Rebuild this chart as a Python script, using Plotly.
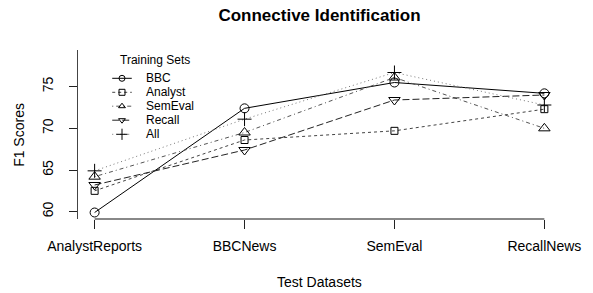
import plotly.graph_objects as go

# ---- data ----
categories = ["AnalystReports", "BBCNews", "SemEval", "RecallNews"]
series_names = ["BBC", "Analyst", "SemEval", "Recall", "All"]
bbc = [59.9, 72.4, 75.5, 74.2]
analyst = [62.5, 68.6, 69.7, 72.3]
semeval = [64.2, 69.5, 76.1, 70.0]
recall = [63.2, 67.4, 73.4, 74.0]
all_sets = [64.9, 71.1, 76.7, 72.8]
y_ticks = [60, 65, 70, 75]

values = [bbc, analyst, semeval, recall, all_sets]
symbols = ["circle-open", "square-open", "triangle-up-open", "triangle-down-open", "cross-thin-open"]
msizes = [9, 7, 10, 10, 10]
dashes = ["solid", "3px,3px", "1px,3px,4px,3px", "7px,3px", "1px,3px"]
lcolors = ["#000000", "#444444", "#555555", "#222222", "#777777"]

W, H = 593, 293
L, R, T, B = 78, 21, 50, 74
pw, ph = W - L - R, H - T - B

FONT = "Liberation Sans, Arial, sans-serif"
fig = go.Figure()
xs = list(range(len(categories)))
for name, v, sym, ms, d, c in zip(series_names, values, symbols, msizes, dashes, lcolors):
    fig.add_trace(go.Scatter(
        x=xs, y=v, mode="lines+markers", name=name,
        line=dict(color=c, width=1, dash=d),
        marker=dict(symbol=sym, size=ms, color="#000000",
                    line=dict(color="#000000", width=1)),
        showlegend=False))

# manual legend on a pixel-coordinate overlay axis
leg_x0, leg_x1, leg_mid, leg_text = 113, 133, 123, 146
leg_rows = [78.3, 92.3, 106.2, 120.2, 134.3]
for i, (name, sym, d, c) in enumerate(zip(series_names, symbols, dashes, lcolors)):
    yy = leg_rows[i]
    fig.add_trace(go.Scatter(x=[leg_x0, leg_x1], y=[yy, yy], mode="lines",
                             line=dict(color=c, width=1, dash=d),
                             xaxis="x2", yaxis="y2", showlegend=False, hoverinfo="skip"))
    fig.add_trace(go.Scatter(x=[leg_mid], y=[yy], mode="markers",
                             marker=dict(symbol=sym, size=6 if i < 4 else 8, color="#000000",
                                         line=dict(color="#000000", width=1)),
                             xaxis="x2", yaxis="y2", showlegend=False, hoverinfo="skip"))
    fig.add_annotation(x=leg_text, y=yy, xref="x2", yref="y2", text=name,
                       showarrow=False, xanchor="left", yanchor="middle",
                       font=dict(size=12, color="#000000", family=FONT))
fig.add_annotation(x=119, y=60, xref="x2", yref="y2", text="Training Sets",
                   showarrow=False, xanchor="left", yanchor="middle",
                   font=dict(size=12, color="#000000", family=FONT))

# x axis line (gray, from first to last tick)
fig.add_shape(type="line", xref="x", yref="paper", x0=0, x1=len(categories) - 1,
              y0=0, y1=0, line=dict(color="#888888", width=2))

px_per = 153.33
xmin = -(95 - L) / px_per
xmax = xmin + pw / px_per
ymin, ymax = 59.12, 79.4

fig.update_layout(
    width=W, height=H,
    margin=dict(l=L, r=R, t=T, b=B),
    paper_bgcolor="white", plot_bgcolor="white",
    font=dict(family=FONT, color="#000000", size=14),
    title=dict(text="<b>Connective Identification</b>", x=0.5, xref="paper",
               y=1 - 15 / H, yref="container", xanchor="center", yanchor="middle",
               font=dict(size=17, family=FONT, color="#000000")),
    xaxis=dict(range=[xmin, xmax], tickvals=xs, ticktext=categories,
               showgrid=False, zeroline=False, showline=False,
               ticks="outside", ticklen=9, tickcolor="#222222", tickwidth=1,
               ticklabelstandoff=5,
               tickfont=dict(size=14), fixedrange=True),
    yaxis=dict(range=[ymin, ymax], tickvals=y_ticks, showgrid=False, zeroline=False,
               showline=True, linecolor="#444444", linewidth=1,
               ticks="outside", ticklen=8, tickcolor="#222222", tickwidth=1,
               ticklabelstandoff=10,
               tickangle=-90, tickfont=dict(size=14), fixedrange=True),
    xaxis2=dict(range=[L, L + pw], overlaying="x", visible=False, fixedrange=True),
    yaxis2=dict(range=[T + ph, T], overlaying="y", visible=False, fixedrange=True),
    showlegend=False,
)
fig.add_annotation(text="Test Datasets", xref="paper", yref="paper", x=0.5,
                   y=-(282 - (T + ph)) / ph, showarrow=False, xanchor="center",
                   yanchor="middle", font=dict(size=14))
fig.add_annotation(text="F1 Scores", xref="paper", yref="paper", x=(17 - L) / pw,
                   y=0.5, showarrow=False, xanchor="center", yanchor="middle",
                   textangle=-90, font=dict(size=14))

fig.write_html("out.html", config={"displayModeBar": False},
               post_script="document.body.style.margin='0';")
